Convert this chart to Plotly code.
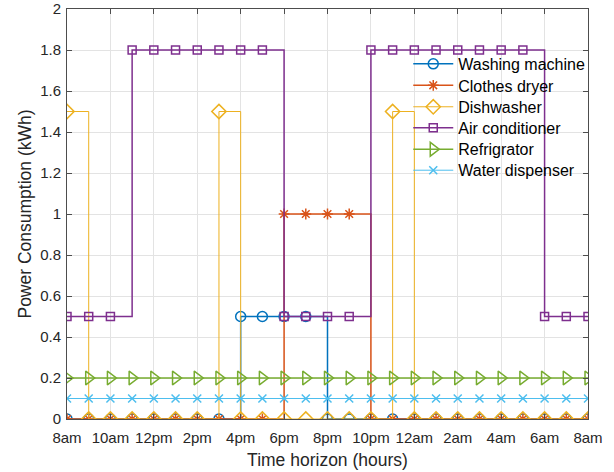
import plotly.graph_objects as go

# Hour index from 8am (0) to 8am the next day (24)
hours = [0, 1, 2, 3, 4, 5, 6, 7, 8, 9, 10, 11, 12,
         13, 14, 15, 16, 17, 18, 19, 20, 21, 22, 23, 24]
tick_hours = [0, 2, 4, 6, 8, 10, 12, 14, 16, 18, 20, 22, 24]
tick_labels = ["8am", "10am", "12pm", "2pm", "4pm", "6pm", "8pm",
               "10pm", "12am", "2am", "4am", "6am", "8am"]
y_ticks = [0, 0.2, 0.4, 0.6, 0.8, 1, 1.2, 1.4, 1.6, 1.8, 2]
y_tick_labels = ["0", "0.2", "0.4", "0.6", "0.8", "1", "1.2", "1.4", "1.6", "1.8", "2"]

# Hourly power consumption (kWh) per appliance
washing_machine = [0, 0, 0, 0, 0, 0, 0, 0, 0.5, 0.5, 0.5, 0.5, 0,
                   0, 0, 0, 0, 0, 0, 0, 0, 0, 0, 0, 0]
clothes_dryer = [0, 0, 0, 0, 0, 0, 0, 0, 0, 0, 1, 1, 1,
                 1, 0, 0, 0, 0, 0, 0, 0, 0, 0, 0, 0]
dishwasher = [1.5, 0, 0, 0, 0, 0, 0, 1.5, 0, 0, 0, 0, 0,
              0, 0, 1.5, 0, 0, 0, 0, 0, 0, 0, 0, 0]
air_conditioner = [0.5, 0.5, 0.5, 1.8, 1.8, 1.8, 1.8, 1.8, 1.8, 1.8, 0.5, 0.5, 0.5,
                   0.5, 1.8, 1.8, 1.8, 1.8, 1.8, 1.8, 1.8, 1.8, 0.5, 0.5, 0.5]
refrigerator = [0.2] * 25
water_dispenser = [0.1] * 25

series = [
    ("Washing machine", washing_machine, "#0072BD", "circle-open", 10, 1.5),
    ("Clothes dryer", clothes_dryer, "#D95319", "asterisk-open", 9, 1.5),
    ("Dishwasher", dishwasher, "#EDB120", "diamond-open", 11, 1.0),
    ("Air conditioner", air_conditioner, "#7E2F8E", "square-open", 8, 1.5),
    ("Refrigrator", refrigerator, "#77AC30", "triangle-right-open", 12, 1.5),
    ("Water dispenser", water_dispenser, "#4DBEEE", "x-thin-open", 8, 1.0),
]

font = "Liberation Sans, Arial, Helvetica, sans-serif"

# Plot-area geometry (pixels) used to place the legend rows
fig_w, fig_h = 614, 472
m_l, m_r, m_t, m_b = 67, 26, 9, 52.5
plot_h = fig_h - m_t - m_b
legend_rows_px = [64, 85.5, 107, 128, 149.5, 170.5]

fig = go.Figure()
layout_legends = {}
for i, (name, values, color, symbol, msize, lw) in enumerate(series):
    key = "legend" if i == 0 else f"legend{i + 1}"
    fig.add_trace(go.Scatter(
        x=hours, y=values, name=name, mode="lines+markers",
        line=dict(color=color, width=lw, shape="hv"),
        marker=dict(symbol=symbol, size=msize, color=color,
                    line=dict(color=color, width=1.5)),
        legend=key,
    ))
    layout_legends[key] = dict(
        x=0.655, y=(fig_h - m_b - legend_rows_px[i]) / plot_h,
        xanchor="left", yanchor="middle",
        bgcolor="rgba(0,0,0,0)", borderwidth=0, itemwidth=40,
        font=dict(family=font, size=16, color="#000000"),
    )

axis_common = dict(
    showline=True, linecolor="#4d4d4d", linewidth=1, mirror="ticks",
    ticks="inside", ticklen=5, tickcolor="#4d4d4d",
    showgrid=True, gridcolor="#e3e3e3", gridwidth=1,
    zeroline=False, automargin=False,
    tickfont=dict(family=font, size=15, color="#262626"),
)

fig.update_layout(
    width=fig_w, height=fig_h,
    margin=dict(l=m_l, r=m_r, t=m_t, b=m_b),
    paper_bgcolor="white", plot_bgcolor="white",
    font=dict(family=font, size=15, color="#262626"),
    xaxis=dict(range=[0, 24], tickvals=tick_hours, ticktext=tick_labels,
               ticklabelstandoff=5,
               title=dict(text="Time horizon (hours)", font=dict(size=17.5), standoff=8),
               **axis_common),
    yaxis=dict(range=[0, 2], tickvals=y_ticks, ticktext=y_tick_labels,
               ticklabelstandoff=2,
               title=dict(text="Power Consumption (kWh)", font=dict(size=17.5), standoff=4),
               **axis_common),
    showlegend=True,
    **layout_legends,
)

fig.write_html("out.html")
